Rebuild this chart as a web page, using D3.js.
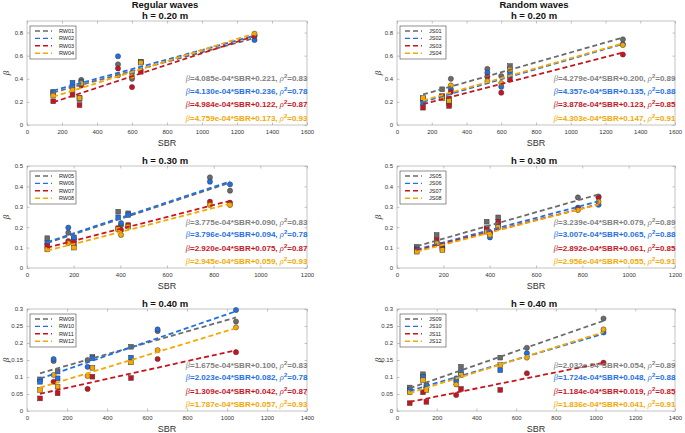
<!DOCTYPE html>
<html><head><meta charset="utf-8">
<script src="https://cdn.jsdelivr.net/npm/d3@7"></script>
<style>
html,body{margin:0;padding:0;background:#fff;}
svg{display:block;font-family:"Liberation Sans",Arial,Helvetica,sans-serif;}
</style></head>
<body>
<svg id="chart" width="685" height="433"></svg>
<script>
// ---------------- DATA ----------------
const seriesColors = ["#6b6b6b", "#1f6fe5", "#c8141e", "#f5a800"];
const textColors   = ["#808080", "#1f6fe5", "#c8141e", "#f5a800"];

// Regular waves h = 0.20 m
const namesP1 = ["RW01","RW02","RW03","RW04"];
const sbrP1 = [150, 260, 300, 310, 520, 600, 650, 1300];
const shapeP1 = ["s","s","s","c","c","c","s","c"];
const RW01 = [0.287, 0.331, 0.235, 0.390, 0.525, 0.400, 0.545, 0.777];
const RW02 = [0.278, 0.366, 0.225, 0.375, 0.595, 0.452, 0.545, 0.736];
const RW03 = [0.205, 0.262, 0.172, 0.342, 0.490, 0.328, 0.461, 0.770];
const RW04 = [0.255, 0.305, 0.232, 0.360, 0.430, 0.420, 0.540, 0.790];
const slopeP1 = [4.085e-4, 4.130e-4, 4.984e-4, 4.759e-4];
const interP1 = [0.221, 0.236, 0.122, 0.173];
const r2P1 = [0.83, 0.78, 0.87, 0.93];

// Random waves h = 0.20 m
const namesP2 = ["JS01","JS02","JS03","JS04"];
const sbrP2 = [150, 260, 300, 310, 520, 600, 650, 1300];
const shapeP2 = ["s","s","s","c","c","c","s","c"];
const JS01 = [0.225, 0.309, 0.230, 0.400, 0.485, 0.424, 0.510, 0.741];
const JS02 = [0.193, 0.245, 0.190, 0.310, 0.452, 0.330, 0.441, 0.700];
const JS03 = [0.150, 0.250, 0.165, 0.285, 0.418, 0.280, 0.395, 0.610];
const JS04 = [0.235, 0.230, 0.210, 0.343, 0.380, 0.363, 0.480, 0.692];
const slopeP2 = [4.279e-4, 4.357e-4, 3.878e-4, 4.303e-4];
const interP2 = [0.200, 0.135, 0.123, 0.147];
const r2P2 = [0.89, 0.88, 0.85, 0.91];

// Regular waves h = 0.30 m
const namesP3 = ["RW05","RW06","RW07","RW08"];
const sbrP3 = [87, 177, 201, 391, 403, 434, 784, 870];
const shapeP3 = ["s","c","s","s","c","s","c","c"];
const RW05 = [0.146, 0.173, 0.140, 0.276, 0.210, 0.268, 0.444, 0.379];
const RW06 = [0.124, 0.198, 0.150, 0.248, 0.220, 0.260, 0.423, 0.410];
const RW07 = [0.108, 0.132, 0.120, 0.195, 0.186, 0.210, 0.325, 0.320];
const RW08 = [0.091, 0.122, 0.100, 0.190, 0.162, 0.203, 0.309, 0.309];
const slopeP3 = [3.775e-4, 3.796e-4, 2.920e-4, 2.945e-4];
const interP3 = [0.090, 0.094, 0.075, 0.059];
const r2P3 = [0.83, 0.78, 0.87, 0.93];

// Random waves h = 0.30 m
const namesP4 = ["JS05","JS06","JS07","JS08"];
const sbrP4 = [85, 171, 196, 387, 401, 437, 781, 870];
const shapeP4 = ["s","s","s","s","c","s","c","c"];
const JS05 = [0.104, 0.162, 0.113, 0.227, 0.170, 0.248, 0.346, 0.350];
const JS06 = [0.095, 0.121, 0.105, 0.190, 0.150, 0.211, 0.296, 0.310];
const JS07 = [0.088, 0.137, 0.095, 0.195, 0.175, 0.227, 0.290, 0.346];
const JS08 = [0.080, 0.121, 0.088, 0.178, 0.162, 0.200, 0.284, 0.325];
const slopeP4 = [3.239e-4, 3.007e-4, 2.892e-4, 2.956e-4];
const interP4 = [0.079, 0.065, 0.061, 0.055];
const r2P4 = [0.89, 0.88, 0.85, 0.91];

// Regular waves h = 0.40 m
const namesP5 = ["RW09","RW10","RW11","RW12"];
const sbrP5 = [65, 133, 153, 303, 327, 520, 653, 1045];
const shapeP5 = ["s","c","s","c","s","s","c","c"];
const RW09 = [0.093, 0.147, 0.116, 0.150, 0.159, 0.189, 0.235, 0.263];
const RW10 = [0.086, 0.153, 0.096, 0.130, 0.155, 0.157, 0.240, 0.297];
const RW11 = [0.037, 0.086, 0.052, 0.065, 0.101, 0.097, 0.153, 0.173];
const RW12 = [0.062, 0.106, 0.072, 0.103, 0.127, 0.143, 0.179, 0.246];
const slopeP5 = [1.675e-4, 2.023e-4, 1.309e-4, 1.787e-4];
const interP5 = [0.100, 0.082, 0.042, 0.057];
const r2P5 = [0.83, 0.78, 0.87, 0.93];

// Random waves h = 0.40 m
const namesP6 = ["JS09","JS10","JS11","JS12"];
const sbrP6 = [64, 131, 148, 298, 322, 520, 654, 1040];
const shapeP6 = ["s","s","s","c","s","s","c","c"];
const JS09 = [0.069, 0.108, 0.075, 0.096, 0.130, 0.157, 0.186, 0.272];
const JS10 = [0.062, 0.101, 0.067, 0.088, 0.114, 0.120, 0.170, 0.231];
const JS11 = [0.023, 0.055, 0.027, 0.047, 0.065, 0.062, 0.111, 0.142];
const JS12 = [0.055, 0.091, 0.062, 0.078, 0.106, 0.135, 0.157, 0.240];
const slopeP6 = [2.032e-4, 1.724e-4, 1.184e-4, 1.836e-4];
const interP6 = [0.054, 0.048, 0.019, 0.041];
const r2P6 = [0.89, 0.88, 0.85, 0.91];

// axis limits / ticks
const xTicksP1 = [0,200,400,600,800,1000,1200,1400,1600];
const xTicksP3 = [0,200,400,600,800,1000,1200];
const xTicksP5 = [0,200,400,600,800,1000,1200,1400];
const yTicksP1 = [0,0.2,0.4,0.6,0.8];
const yTicksP3 = [0,0.1,0.2,0.3,0.4,0.5];
const yTicksP5 = [0,0.05,0.1,0.15,0.2,0.25,0.3];
const titlesTop = ["Regular waves", "Random waves"];
const subTitles = ["h = 0.20 m", "h = 0.30 m", "h = 0.40 m"];

// ---------------- LAYOUT ----------------
const colL = [27, 397], colR = [307, 675];
const rowT = [21, 166, 309], rowB = [125, 268, 411];
const yMax = [0.9, 0.5, 0.3];
const xMax = [1600, 1200, 1400];

const panels = [
  {c:0,r:0,names:namesP1,sbr:sbrP1,shape:shapeP1,vals:[RW01,RW02,RW03,RW04],slope:slopeP1,inter:interP1,r2:r2P1,xt:xTicksP1,yt:yTicksP1},
  {c:1,r:0,names:namesP2,sbr:sbrP2,shape:shapeP2,vals:[JS01,JS02,JS03,JS04],slope:slopeP2,inter:interP2,r2:r2P2,xt:xTicksP1,yt:yTicksP1},
  {c:0,r:1,names:namesP3,sbr:sbrP3,shape:shapeP3,vals:[RW05,RW06,RW07,RW08],slope:slopeP3,inter:interP3,r2:r2P3,xt:xTicksP3,yt:yTicksP3},
  {c:1,r:1,names:namesP4,sbr:sbrP4,shape:shapeP4,vals:[JS05,JS06,JS07,JS08],slope:slopeP4,inter:interP4,r2:r2P4,xt:xTicksP3,yt:yTicksP3},
  {c:0,r:2,names:namesP5,sbr:sbrP5,shape:shapeP5,vals:[RW09,RW10,RW11,RW12],slope:slopeP5,inter:interP5,r2:r2P5,xt:xTicksP5,yt:yTicksP5},
  {c:1,r:2,names:namesP6,sbr:sbrP6,shape:shapeP6,vals:[JS09,JS10,JS11,JS12],slope:slopeP6,inter:interP6,r2:r2P6,xt:xTicksP5,yt:yTicksP5},
];

const svg = d3.select("#chart");
const fmtY = d => String(+d.toFixed(2));

panels.forEach(p => {
  const L = colL[p.c], R = colR[p.c], T = rowT[p.r], B = rowB[p.r];
  const x = d3.scaleLinear().domain([0, xMax[p.r]]).range([L, R]);
  const y = d3.scaleLinear().domain([0, yMax[p.r]]).range([B, T]);
  const g = svg.append("g");

  // frame
  g.append("rect").attr("x", L).attr("y", T).attr("width", R-L).attr("height", B-T)
    .attr("fill", "#fff").attr("stroke", "#b4b4b4").attr("stroke-width", 0.8);

  // x axis
  const xa = g.append("g").attr("transform", `translate(0,${B})`)
    .call(d3.axisBottom(x).tickValues(p.xt).tickSizeInner(-2.5).tickSizeOuter(0).tickPadding(4.5).tickFormat(d3.format("d")));
  xa.select(".domain").remove();
  xa.selectAll("line").attr("stroke", "#9a9a9a").attr("stroke-width", 0.6);
  xa.selectAll("text").attr("font-size", 6).attr("fill", "#333").attr("font-family", "Liberation Sans, Arial, sans-serif");
  // top ticks
  const xt2 = g.append("g").attr("transform", `translate(0,${T})`)
    .call(d3.axisTop(x).tickValues(p.xt).tickSizeInner(-2.5).tickSizeOuter(0).tickFormat(""));
  xt2.select(".domain").remove();
  xt2.selectAll("line").attr("stroke", "#9a9a9a").attr("stroke-width", 0.6);

  // y axis
  const ya = g.append("g").attr("transform", `translate(${L},0)`)
    .call(d3.axisLeft(y).tickValues(p.yt).tickSizeInner(-2.5).tickSizeOuter(0).tickPadding(4).tickFormat(fmtY));
  ya.select(".domain").remove();
  ya.selectAll("line").attr("stroke", "#9a9a9a").attr("stroke-width", 0.6);
  ya.selectAll("text").attr("font-size", 6).attr("fill", "#333").attr("font-family", "Liberation Sans, Arial, sans-serif");
  const yr2 = g.append("g").attr("transform", `translate(${R},0)`)
    .call(d3.axisRight(y).tickValues(p.yt).tickSizeInner(-2.5).tickSizeOuter(0).tickFormat(""));
  yr2.select(".domain").remove();
  yr2.selectAll("line").attr("stroke", "#9a9a9a").attr("stroke-width", 0.6);

  // titles
  const cx = (L + R) / 2 - 2;
  if (p.r === 0) {
    g.append("text").attr("x", cx).attr("y", T - 13.5).attr("text-anchor", "middle")
      .attr("font-size", 9.5).attr("font-weight", "bold").attr("fill", "#111").text(titlesTop[p.c]);
  }
  g.append("text").attr("x", cx).attr("y", T - 2.3).attr("text-anchor", "middle")
    .attr("font-size", 9.5).attr("font-weight", "bold").attr("fill", "#111").text(subTitles[p.r]);

  // axis labels
  g.append("text").attr("x", (L + R) / 2).attr("y", B + 20.5).attr("text-anchor", "middle")
    .attr("font-size", 9).attr("fill", "#333").text("SBR");
  const ylx = p.c === 0 ? 9 : 381;
  g.append("text").attr("transform", `translate(${ylx},${(T + B) / 2}) rotate(-90)`)
    .attr("text-anchor", "middle").attr("font-size", 9).attr("font-style", "italic")
    .attr("font-family", "Liberation Serif, Times New Roman, serif").attr("fill", "#333").text("β");

  // markers
  p.vals.forEach((vals, si) => {
    vals.forEach((v, i) => {
      const px = x(p.sbr[i]), py = y(v);
      if (p.shape[i] === "c") {
        g.append("circle").attr("cx", px).attr("cy", py).attr("r", 2.6)
          .attr("fill", seriesColors[si]).attr("stroke", "#3a3a3a").attr("stroke-width", 0.5);
      } else {
        g.append("rect").attr("x", px - 2.4).attr("y", py - 2.4).attr("width", 4.8).attr("height", 4.8)
          .attr("fill", seriesColors[si]).attr("stroke", "#3a3a3a").attr("stroke-width", 0.5);
      }
    });
  });

  // fit lines
  const xmin = d3.min(p.sbr), xmaxv = d3.max(p.sbr);
  p.slope.forEach((s, si) => {
    const f = xx => s * xx + p.inter[si];
    g.append("line").attr("x1", x(xmin)).attr("y1", y(f(xmin))).attr("x2", x(xmaxv)).attr("y2", y(f(xmaxv)))
      .attr("stroke", seriesColors[si]).attr("stroke-width", 1.8).attr("stroke-dasharray", "5,3");
  });

  // annotations
  const fr = [0.55, 0.67, 0.80, 0.93];
  p.slope.forEach((s, si) => {
    const ty = T + fr[si] * (B - T) + 3;
    const t = g.append("text").attr("x", R + 0.5).attr("y", ty).attr("text-anchor", "end")
      .attr("font-size", 8).attr("font-weight", "bold").attr("fill", textColors[si]);
    t.append("tspan").attr("font-style", "italic").attr("font-weight", "normal")
      .attr("font-family", "Liberation Serif, Times New Roman, serif").attr("font-size", 8.5).text("β");
    const mant = (s / 1e-4).toFixed(3);
    t.append("tspan").text(`=${mant}e-04*SBR+${p.inter[si].toFixed(3)}, `);
    t.append("tspan").attr("font-style", "italic").attr("font-weight", "normal")
      .attr("font-family", "Liberation Serif, Times New Roman, serif").attr("font-size", 8.5).text("ρ");
    t.append("tspan").attr("dy", -3).attr("font-size", 6).text("2");
    t.append("tspan").attr("dy", 3).text(`=${p.r2[si].toFixed(2)}`);
  });

  // legend
  const lx = L + 3, ly = T + 5, lw = 46, lh = 33;
  g.append("rect").attr("x", lx).attr("y", ly).attr("width", lw).attr("height", lh)
    .attr("fill", "#fff").attr("stroke", "#444").attr("stroke-width", 0.6);
  p.names.forEach((n, si) => {
    const yy = ly + 5 + si * 7.4;
    g.append("line").attr("x1", lx + 5).attr("x2", lx + 22).attr("y1", yy).attr("y2", yy)
      .attr("stroke", seriesColors[si]).attr("stroke-width", 1.4).attr("stroke-dasharray", "5,3");
    g.append("text").attr("x", lx + 29).attr("y", yy + 2).attr("font-size", 5.5).attr("fill", "#222").text(n);
  });
});
</script>
</body></html>
